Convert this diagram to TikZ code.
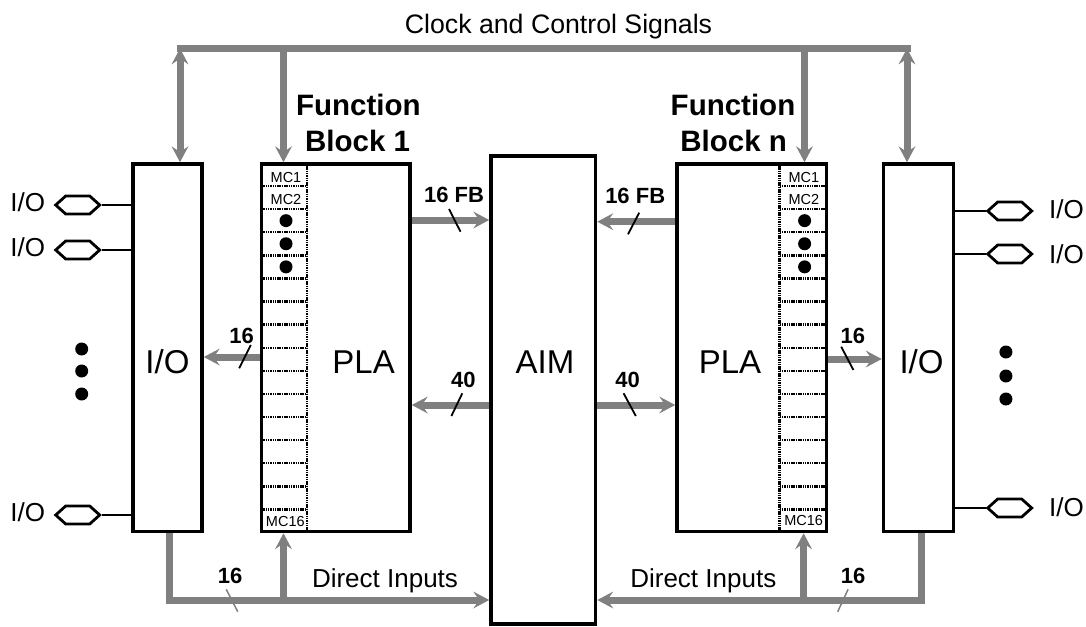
\documentclass[tikz,border=0pt]{standalone}
\usepackage{fontspec}
\setmainfont{Liberation Sans}
\usetikzlibrary{arrows.meta,shapes.symbols}
\definecolor{busgray}{RGB}{128,128,128}
\begin{document}
\begin{tikzpicture}[x=1pt,y=-1pt,
  >={Stealth[length=16pt,width=17pt,inset=6pt,line width=0pt]},
  blk/.style={draw=black, line width=3.6pt, inner sep=0pt, minimum height=367.5pt},
  bus/.style={draw=busgray, line width=7pt},
  txt/.style={inner sep=0pt, anchor=base},
  iolbl/.style={txt, font=\fontsize{26}{30}\selectfont},
  bigl/.style={txt, font=\fontsize{33}{38}\selectfont},
  fbt/.style={txt, font=\bfseries\fontsize{29.5}{34}\selectfont},
  num/.style={txt, font=\bfseries\fontsize{22}{26}\selectfont},
  mcl/.style={txt, font=\fontsize{14.5}{16}\selectfont},
  mcdash/.style={line width=2.4pt, dash pattern=on 1.5pt off 0.8pt},
  pad/.style={draw, line width=2.8pt, signal, signal to=west and east, signal pointer angle=84, minimum width=44pt, minimum height=18pt, inner sep=0pt},
  wire/.style={line width=1.6pt},
  tickl/.style={line width=1.8pt},
  bigdot/.style={circle, fill=black, inner sep=0pt, minimum size=13pt}
]
\useasboundingbox (0,0) rectangle (1086,626);

% blocks
\node[blk, minimum width=69pt] (io1) at (167.5,347.75) {};
\node[blk, minimum width=148.5pt] (fb1) at (335.75,347.75) {};
\node[blk, minimum width=104.5pt, minimum height=468pt] (aim) at (543.25,390) {};
\node[blk, minimum width=149.5pt] (fbn) at (751.75,347.75) {};
\node[blk, minimum width=70pt] (io2) at (918.5,347.75) {};

% macrocell columns
\draw[mcdash] (307,166) -- (307,529.7);
\draw[mcdash] (779.6,166) -- (779.6,529.7);
\foreach \k in {0,...,14}{
  \draw[mcdash] (263.3,{186+23.1*\k}) -- (307,{186+23.1*\k});
  \draw[mcdash] (779.6,{186+23.1*\k}) -- (824.7,{186+23.1*\k});
}
\node[mcl] (mc1a) at (286,182) {MC1};
\node[mcl] (mc2a) at (286,204.3) {MC2};
\node[mcl] (mc16a) at (285.3,526) {MC16};
\node[mcl] (mc1b) at (803.8,182) {MC1};
\node[mcl] (mc2b) at (803.8,204.3) {MC2};
\node[mcl] (mc16b) at (803.7,525.5) {MC16};
\foreach \yy [count=\i] in {220.65,243.75,266.85}{
  \node[bigdot] (da\i) at (286,\yy) {};
  \node[bigdot] (db\i) at (804.6,\yy) {};
}

% block texts
\node[bigl] (io1t) at (167.5,373) {I/O};
\node[bigl] (pla1) at (363.6,373) {PLA};
\node[bigl] (aimt) at (545,373) {AIM};
\node[bigl] (pla2) at (730,373) {PLA};
\node[bigl] (io2t) at (921.5,373) {I/O};

\node[fbt] (fb1a) at (358.3,115) {Function};
\node[fbt] (fb1b) at (357.6,151.7) {Block 1};
\node[fbt] (fbna) at (733,115) {Function};
\node[fbt] (fbnb) at (733.6,151.7) {Block n};

\node[txt, font=\fontsize{26.7}{30}\selectfont] (clk) at (558.5,33.3) {Clock and Control Signals};

% clock / control bus
\coordinate (tl) at (180,48.5);
\coordinate (tf1) at (283.5,48.5);
\coordinate (tfn) at (804.5,48.5);
\coordinate (tr) at (907,48.5);
\draw[bus, line cap=rect] (tl) -- (tr);
\draw[bus,<->] (tl) -- (tl |- io1.north);
\draw[bus,->] (tf1) -- (tf1 |- fb1.north);
\draw[bus,->] (tfn) -- (tfn |- fbn.north);
\draw[bus,<->] (tr) -- (tr |- io2.north);

% horizontal buses
\coordinate (h1) at (0,220);
\coordinate (h2) at (0,221.7);
\coordinate (h3) at (0,357);
\coordinate (h4) at (0,405);
\coordinate (h5) at (0,359);
\draw[bus,->] (fb1.east |- h1) -- (aim.west |- h1);
\draw[bus,->] (fbn.west |- h2) -- (aim.east |- h2);
\draw[bus,->] (fb1.west |- h3) -- (io1.east |- h3);
\draw[bus,->] (aim.west |- h4) -- (fb1.east |- h4);
\draw[bus,->] (aim.east |- h4) -- (fbn.west |- h4);
\draw[bus,->] (fbn.east |- h5) -- (io2.west |- h5);

% direct inputs
\coordinate (bl) at (169,600);
\coordinate (bb1) at (283.5,600);
\coordinate (br) at (921.3,600);
\coordinate (bbn) at (803.6,600);
\draw[bus,->] (io1.south -| bl) -- (bl) -- (aim.west |- bl);
\draw[bus,->] (bb1) -- (bb1 |- fb1.south);
\draw[bus,->] (io2.south -| br) -- (br) -- (aim.east |- br);
\draw[bus,->] (bbn) -- (bbn |- fbn.south);

% bus width ticks
\draw[tickl] (449,209) -- (460.5,231.7);
\draw[tickl] (639.2,212.7) -- (628,234.3);
\draw[tickl] (250.8,345) -- (239.2,368.3);
\draw[tickl] (462.3,393.3) -- (451.4,416);
\draw[tickl] (623.6,393.3) -- (635.8,416);
\draw[tickl] (841.2,346.7) -- (853.4,370);
\draw[tickl, busgray, line width=1.5pt] (226.2,589.3) -- (237.8,611.7);
\draw[tickl, busgray, line width=1.5pt] (848.1,589.3) -- (837.7,611.7);

% bus labels
\node[num] (n1) at (454,202) {16 FB};
\node[num] (n2) at (635.2,203) {16 FB};
\node[num] (n3) at (241.5,343) {16};
\node[num] (n4) at (463.4,387) {40};
\node[num] (n5) at (627.5,387) {40};
\node[num] (n6) at (852.8,343) {16};
\node[num] (n7) at (230,583) {16};
\node[num] (n8) at (853,583) {16};
\node[iolbl] (di1) at (385,587) {Direct Inputs};
\node[iolbl] (di2) at (703.3,587) {Direct Inputs};

% I/O pads left
\node[pad] (p1) at (77.7,205) {};
\node[pad] (p2) at (77.7,250) {};
\node[pad] (p3) at (77.7,515) {};
\draw[wire] (p1.east) -- (io1.west |- p1.east);
\draw[wire] (p2.east) -- (io1.west |- p2.east);
\draw[wire] (p3.east) -- (io1.west |- p3.east);
\node[iolbl] (l1) at (27.7,211.7) {I/O};
\node[iolbl] (l2) at (27.7,256.7) {I/O};
\node[iolbl] (l3) at (27.7,521.7) {I/O};

% I/O pads right
\node[pad] (q1) at (1009.7,211) {};
\node[pad] (q2) at (1009.7,254) {};
\node[pad] (q3) at (1009.7,508) {};
\draw[wire] (io2.east |- q1.west) -- (q1.west);
\draw[wire] (io2.east |- q2.west) -- (q2.west);
\draw[wire] (io2.east |- q3.west) -- (q3.west);
\node[iolbl] (r1) at (1066.5,218.3) {I/O};
\node[iolbl] (r2) at (1066.5,263.3) {I/O};
\node[iolbl] (r3) at (1066.5,516.7) {I/O};

% ellipsis dots
\foreach \yy [count=\i] in {349,371,394}{
  \node[bigdot] (el\i) at (81.7,\yy) {};
}
\foreach \yy [count=\i] in {352,376,399}{
  \node[bigdot] (er\i) at (1005.9,\yy) {};
}
\end{tikzpicture}
\end{document}
